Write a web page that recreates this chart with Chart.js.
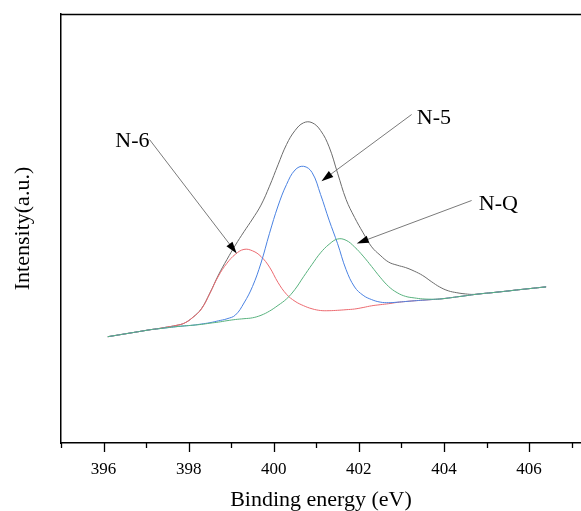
<!DOCTYPE html>
<html>
<head>
<meta charset="utf-8">
<title>N 1s</title>
<script src="https://cdn.jsdelivr.net/npm/chart.js@4.4.1/dist/chart.umd.min.js"></script>
<style>
  html, body { margin: 0; padding: 0; background: #fff; overflow: hidden; }
  #wrap { width: 581px; height: 511px; }
</style>
</head>
<body>
<div id="wrap"><canvas id="xpsChart" width="581" height="511"></canvas></div>
<script>
// ------------------------------------------------------------
//  Spectre N 1s : enveloppe mesurée + trois composantes ajustées
// ------------------------------------------------------------

// Énergie de liaison (eV)
const energy = [
    396.1, 396.3, 396.5, 396.7, 396.9, 397.1, 397.3, 397.5, 397.7, 397.9,
    398.1, 398.3, 398.5, 398.7, 398.9, 399.1, 399.3, 399.5, 399.7, 399.9,
    400.1, 400.3, 400.5, 400.7, 400.9, 401.1, 401.3, 401.5, 401.7, 401.9,
    402.1, 402.3, 402.5, 402.7, 402.9, 403.1, 403.3, 403.5, 403.7, 403.9,
    404.1, 404.3, 404.5, 404.7, 404.9, 405.1, 405.3, 405.5, 405.7, 405.9,
    406.1, 406.3, 406.4
];

// Spectre mesuré (enveloppe)
const envelope = [
    106.3, 107.7, 109.1, 110.5, 111.9, 113.3, 114.5, 116.0, 117.5, 119.9,
    125.7, 134.3, 150.0, 168.0, 183.5, 198.0, 211.3, 224.0, 237.9, 256.8,
    278.2, 298.5, 312.5, 320.2, 320.3, 312.5, 296.2, 269.8, 243.5, 225.5,
    210.2, 196.2, 187.8, 180.9, 177.8, 175.4, 171.9, 167.5, 161.5, 156.0,
    152.2, 150.3, 149.1, 148.6, 149.4, 150.2, 151.1, 152.0, 153.0, 153.9,
    154.8, 155.7, 156.1
];

// N-6 (pyridinique)
const n6 = [
    106.3, 107.7, 109.1, 110.5, 111.9, 113.3, 114.5, 116.0, 117.5, 119.9,
    125.7, 134.0, 149.8, 167.0, 179.8, 188.8, 193.6, 192.2, 186.5, 175.9,
    160.5, 148.7, 141.7, 137.3, 134.2, 132.5, 132.3, 132.7, 133.3, 134.0,
    135.5, 137.2, 138.3, 139.3, 140.6, 141.5, 142.2, 142.8, 143.4, 144.0,
    145.0, 146.1, 147.2, 148.4, 149.4, 150.2, 151.1, 152.0, 153.0, 153.9,
    154.8, 155.7, 156.1
];

// N-5 (pyrrolique)
const n5 = [
    106.3, 107.7, 109.1, 110.5, 111.9, 113.3, 114.3, 115.3, 116.3, 117.1,
    117.8, 119.0, 120.3, 122.2, 124.2, 128.0, 140.0, 156.5, 180.0, 209.7,
    237.0, 258.5, 273.0, 276.7, 270.5, 248.5, 222.9, 199.3, 173.3, 156.0,
    147.7, 143.4, 140.9, 140.3, 140.8, 141.5, 142.2, 142.8, 143.4, 144.0,
    145.0, 146.1, 147.2, 148.4, 149.4, 150.2, 151.1, 152.0, 153.0, 153.9,
    154.8, 155.7, 156.1
];

// N-Q (graphitique)
const nq = [
    106.3, 107.7, 109.1, 110.5, 111.9, 113.3, 114.3, 115.3, 116.3, 117.1,
    117.8, 118.6, 119.8, 120.9, 122.3, 123.5, 124.3, 125.2, 127.7, 131.9,
    137.6, 144.1, 153.7, 166.3, 178.6, 190.2, 198.7, 204.0, 202.7, 196.0,
    186.9, 176.5, 165.8, 156.5, 150.3, 146.6, 145.1, 144.1, 143.8, 144.0,
    144.9, 146.1, 147.2, 148.4, 149.4, 150.2, 151.1, 152.0, 153.0, 153.9,
    154.8, 155.7, 156.1
];

// Graduations de l'axe x
const xTicks = [395, 396, 397, 398, 399, 400, 401, 402, 403, 404, 405, 406, 407];
const xLabels = [396, 398, 400, 402, 404, 406];

// Étiquettes des pics : texte, position du texte, départ et pointe de la flèche
const peakNotes = [
    { text: "N-6", align: "right", tx: 397.08, ty: 301.5, from: [397.08, 303.5], to: [399.13, 189.5] },
    { text: "N-5", align: "left",  tx: 403.36, ty: 324.7, from: [403.24, 328.5], to: [401.12, 261.8] },
    { text: "N-Q", align: "left",  tx: 404.82, ty: 239.0, from: [404.65, 242.5], to: [401.95, 199.5] }
];

const FONT = "'Liberation Serif', 'Times New Roman', serif";

function toPoints(values) {
    return energy.map((e, i) => ({ x: e, y: values[i] }));
}

// Petites et grandes graduations, cadre supérieur, flèches et étiquettes
const decorPlugin = {
    id: "decor",
    afterDraw(chart) {
        const { ctx, chartArea } = chart;
        const xs = chart.scales.x;
        const ys = chart.scales.y;

        ctx.save();
        ctx.strokeStyle = "#000";
        ctx.lineWidth = 1.5;

        // cadre du haut
        ctx.beginPath();
        ctx.moveTo(chartArea.left, chartArea.top + 0.5);
        ctx.lineTo(chartArea.right, chartArea.top + 0.5);
        ctx.stroke();

        // graduations vers l'extérieur
        ctx.lineWidth = 1.3;
        xTicks.forEach(v => {
            const px = Math.round(xs.getPixelForValue(v)) + 0.5;
            const len = v % 2 === 0 ? 9 : 5;
            ctx.beginPath();
            ctx.moveTo(px, chartArea.bottom);
            ctx.lineTo(px, chartArea.bottom + len);
            ctx.stroke();
        });

        // flèches
        peakNotes.forEach(n => {
            const x0 = xs.getPixelForValue(n.from[0]);
            const y0 = ys.getPixelForValue(n.from[1]);
            const x1 = xs.getPixelForValue(n.to[0]);
            const y1 = ys.getPixelForValue(n.to[1]);
            const a = Math.atan2(y1 - y0, x1 - x0);

            ctx.strokeStyle = "#7a7a7a";
            ctx.lineWidth = 1;
            ctx.beginPath();
            ctx.moveTo(x0, y0);
            ctx.lineTo(x1 - 6 * Math.cos(a), y1 - 6 * Math.sin(a));
            ctx.stroke();

            const L = 12, W = 3.8;
            const bx = x1 - L * Math.cos(a);
            const by = y1 - L * Math.sin(a);
            ctx.fillStyle = "#000";
            ctx.beginPath();
            ctx.moveTo(x1, y1);
            ctx.lineTo(bx - W * Math.sin(a), by + W * Math.cos(a));
            ctx.lineTo(bx + W * Math.sin(a), by - W * Math.cos(a));
            ctx.closePath();
            ctx.fill();

            ctx.font = "22px " + FONT;
            ctx.textAlign = n.align;
            ctx.textBaseline = "middle";
            ctx.fillText(n.text, xs.getPixelForValue(n.tx), ys.getPixelForValue(n.ty));
        });

        ctx.restore();
    }
};

const common = {
    borderWidth: 1,
    pointRadius: 0,
    fill: false,
    tension: 0.4
};

const ctx = document.getElementById("xpsChart").getContext("2d");

new Chart(ctx, {
    type: "line",
    data: {
        datasets: [
            { ...common, label: "Envelope", data: toPoints(envelope), borderColor: "#6c6c6c", order: 4 },
            { ...common, label: "N-6", data: toPoints(n6), borderColor: "#ec6a70", order: 3 },
            { ...common, label: "N-5", data: toPoints(n5), borderColor: "#4a82e2", order: 2 },
            { ...common, label: "N-Q", data: toPoints(nq), borderColor: "#58b27e", order: 1 }
        ]
    },
    options: {
        responsive: false,
        animation: false,
        layout: { padding: { top: 14, right: 0, bottom: 0, left: 0 } },
        plugins: {
            legend: { display: false },
            tooltip: { enabled: false }
        },
        scales: {
            x: {
                type: "linear",
                min: 395,
                max: 407.22,
                afterBuildTicks: scale => {
                    scale.ticks = xTicks.map(v => ({ value: v }));
                },
                afterFit: scale => {
                    scale.height = 68;
                    // le cadre continue jusqu'au bord droit du canevas
                    scale.paddingLeft = 0;
                    scale.paddingRight = 0;
                },
                ticks: {
                    autoSkip: false,
                    maxRotation: 0,
                    padding: 16,
                    color: "#000",
                    font: { family: FONT, size: 17 },
                    callback: v => xLabels.includes(v) ? String(v) : ""
                },
                grid: { display: false, drawTicks: false },
                border: { display: true, color: "#000", width: 1.5 },
                title: {
                    display: true,
                    text: "Binding energy (eV)",
                    color: "#000",
                    font: { family: FONT, size: 22, lineHeight: 0.95 },
                    padding: { top: 0, bottom: 0 }
                }
            },
            y: {
                min: 0,
                max: 429,
                afterFit: scale => { scale.width = 61; },
                ticks: { display: false },
                grid: { display: false, drawTicks: false },
                border: { display: true, color: "#000", width: 1.5 },
                title: {
                    display: true,
                    text: "Intensity(a.u.)",
                    color: "#000",
                    font: { family: FONT, size: 22 },
                    padding: { top: 10, bottom: 0 }
                }
            }
        }
    },
    plugins: [decorPlugin]
});
</script>
</body>
</html>
